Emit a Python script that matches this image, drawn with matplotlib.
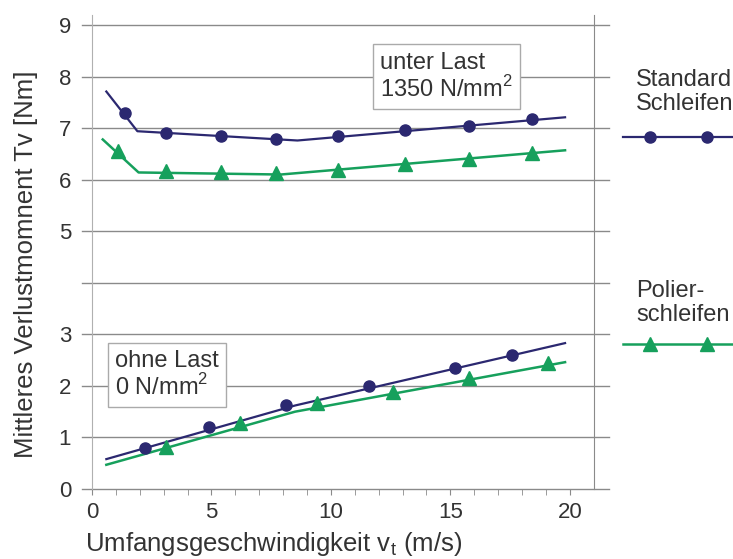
import matplotlib.pyplot as plt
import matplotlib.transforms as mtransforms
import numpy as np

plt.rcParams['font.family'] = ['Liberation Sans', 'DejaVu Sans']

# Standard Schleifen, unter Last
std_last_line_x = [0.6, 1.9, 8.6, 19.8]
std_last_line_y = [7.71, 6.94, 6.76, 7.21]
std_last_x = [1.4, 3.1, 5.4, 7.7, 10.3, 13.1, 15.8, 18.4]
std_last_y = [7.29, 6.90, 6.84, 6.79, 6.84, 6.97, 7.05, 7.17]

# Polierschleifen, unter Last
pol_last_line_x = [0.45, 1.95, 7.9, 19.8]
pol_last_line_y = [6.78, 6.14, 6.10, 6.57]
pol_last_x = [1.1, 3.1, 5.4, 7.7, 10.3, 13.1, 15.8, 18.4]
pol_last_y = [6.55, 6.17, 6.15, 6.13, 6.19, 6.30, 6.41, 6.52]

# Standard Schleifen, ohne Last
std_leer_line_x = [0.6, 8.5, 19.8]
std_leer_line_y = [0.58, 1.62, 2.83]
std_leer_x = [2.2, 4.9, 8.1, 11.6, 15.2, 17.6]
std_leer_y = [0.80, 1.20, 1.62, 2.00, 2.34, 2.60]

# Polierschleifen, ohne Last
pol_leer_line_x = [0.6, 8.5, 19.8]
pol_leer_line_y = [0.47, 1.50, 2.46]
pol_leer_x = [3.1, 6.2, 9.4, 12.6, 15.8, 19.1]
pol_leer_y = [0.82, 1.28, 1.67, 1.88, 2.16, 2.44]

y_ticks = [0, 1, 2, 3, 4, 5, 6, 7, 8, 9]
y_labels = ['0', '1', '2', '3', '', '5', '6', '7', '8', '9']
x_ticks = [0, 5, 10, 15, 20]

navy = '#2b2870'
green = '#16a05c'
gridc = '#8a8a8a'
textc = '#333333'

fig = plt.figure(figsize=(7.33, 5.59), dpi=100)
ax = fig.add_axes([0.1255, 0.1252, 0.6845, 0.8485])
ax.set_xlim(0, 21)
ax.set_ylim(0, 9.2)

# Gitterlinien, etwas über die Achsen hinaus
trans = mtransforms.blended_transform_factory(ax.transAxes, ax.transData)
for yv in y_ticks:
    ax.plot([-0.02, 1.03], [yv, yv], transform=trans, color=gridc, lw=1.0,
            clip_on=False, zorder=1)

ax.plot(std_last_line_x, std_last_line_y, color=navy, lw=1.6, zorder=3)
ax.plot(std_last_x, std_last_y, 'o', color=navy, ms=8, zorder=4)
ax.plot(pol_last_line_x, pol_last_line_y, color=green, lw=1.8, zorder=3)
ax.plot(pol_last_x, pol_last_y, '^', color=green, ms=10, zorder=4)

ax.plot(std_leer_line_x, std_leer_line_y, color=navy, lw=1.6, zorder=3)
ax.plot(std_leer_x, std_leer_y, 'o', color=navy, ms=8, zorder=4)
ax.plot(pol_leer_line_x, pol_leer_line_y, color=green, lw=1.8, zorder=3)
ax.plot(pol_leer_x, pol_leer_y, '^', color=green, ms=10, zorder=4)

for s in ['top', 'bottom']:
    ax.spines[s].set_visible(False)
ax.spines['left'].set_color('#b0b0b0')
ax.spines['right'].set_color(gridc)

ax.set_yticks(y_ticks)
ax.set_yticklabels(y_labels)
ax.tick_params(axis='y', length=0, labelsize=16, pad=15, colors=textc)
ax.set_xticks(x_ticks)
ax.set_xticks(np.arange(0, 21, 1), minor=True)
ax.tick_params(axis='x', which='both', length=4, labelsize=16,
               colors=textc, pad=5)
ax.tick_params(axis='x', which='both', color=gridc)

# Achsentitel
fig.text(0.116, 1 - 544 / 559, 'Umfangsgeschwindigkeit v$_\\mathregular{t}$ (m/s)',
         fontsize=18.5, color=textc, ha='left', va='center')
fig.text(26 / 733, 1 - 264 / 559, 'Mittleres Verlustmomnent Tv [Nm]',
         fontsize=18.5, color=textc, ha='center', va='center', rotation=90)

box = dict(boxstyle='square,pad=0.3', facecolor='white', edgecolor='#aaaaaa', lw=1)
ax.text(12.05, 8.0, 'unter Last\n1350 N/mm$^\\mathregular{2}$', fontsize=17,
        color=textc, va='center', ha='left', bbox=box, zorder=5,
        linespacing=1.1)
ax.text(0.95, 2.21, 'ohne Last\n0 N/mm$^\\mathregular{2}$', fontsize=17,
        color=textc, va='center', ha='left', bbox=box, zorder=5,
        linespacing=1.1)

# Legende rechts
fig.text(0.868, 0.835, 'Standard\nSchleifen', fontsize=17, color=textc,
         ha='left', va='center', linespacing=1.1)
fig.text(0.868, 0.458, 'Polier-\nschleifen', fontsize=17, color=textc,
         ha='left', va='center', linespacing=1.1)
lx = [0.85, 0.998]
mx = [0.887, 0.965]
fig.add_artist(plt.Line2D(lx, [0.755, 0.755], color=navy, lw=1.6))
fig.add_artist(plt.Line2D(mx, [0.755, 0.755], color=navy, lw=0, marker='o', ms=8))
fig.add_artist(plt.Line2D(lx, [0.385, 0.385], color=green, lw=1.8))
fig.add_artist(plt.Line2D(mx, [0.385, 0.385], color=green, lw=0, marker='^', ms=10))

fig.savefig('out.png', dpi=100)
